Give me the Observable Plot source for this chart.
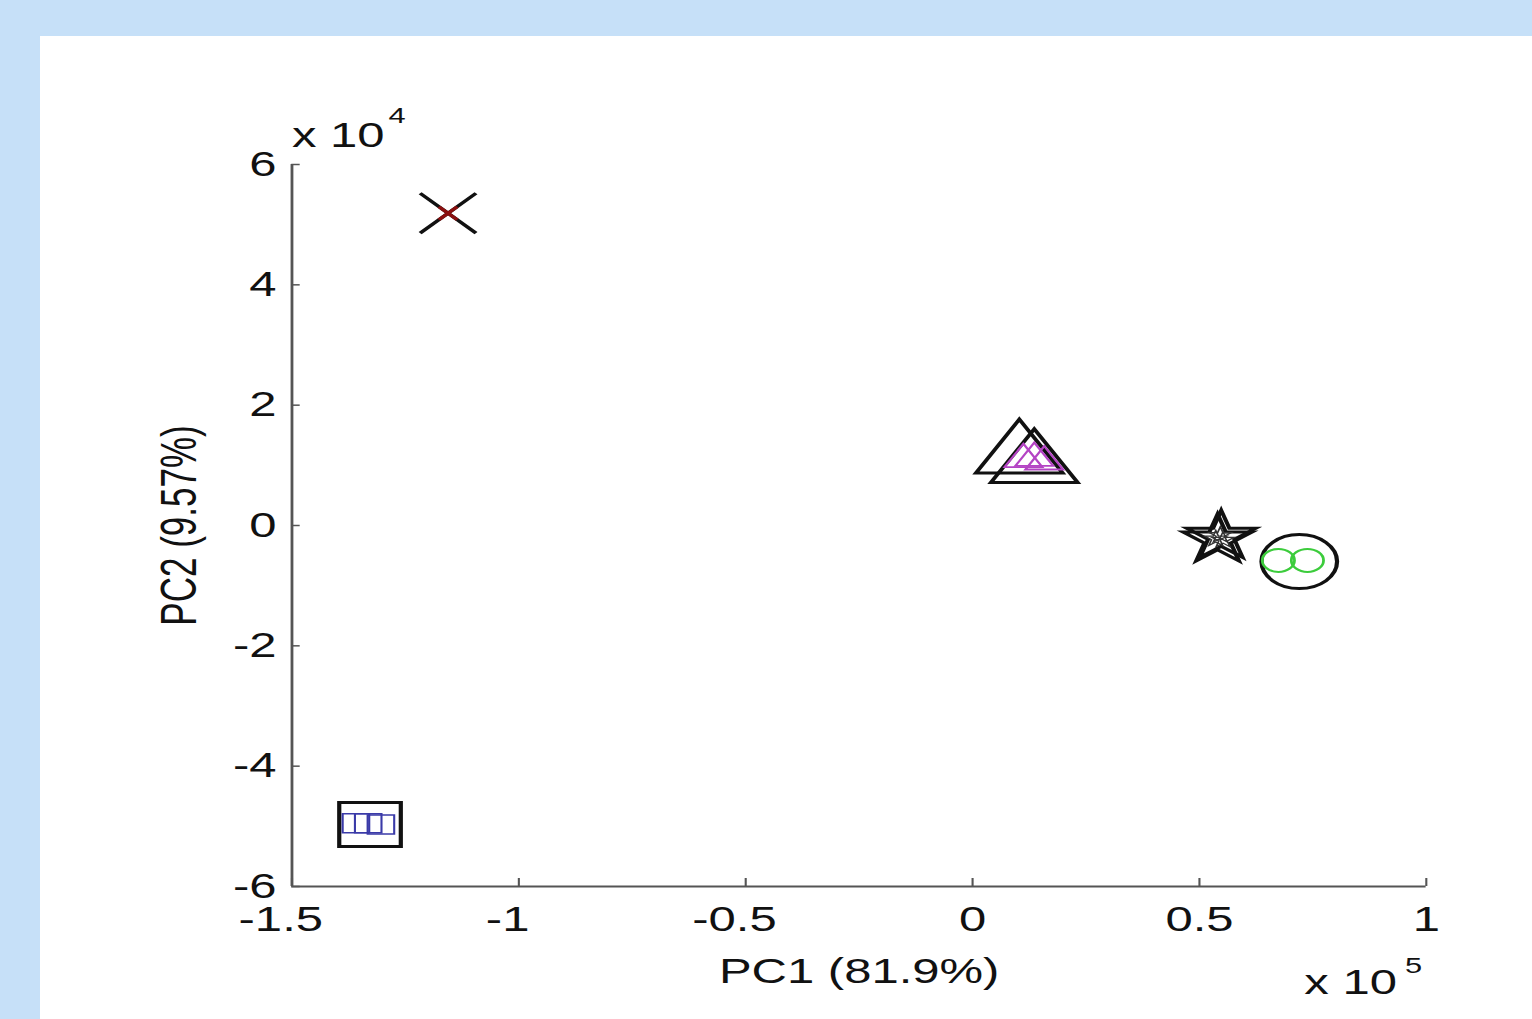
<!DOCTYPE html>
<html><head><meta charset="utf-8">
<script src="https://cdn.jsdelivr.net/npm/d3@7"></script>
<script src="https://cdn.jsdelivr.net/npm/@observablehq/plot@0.6"></script>
<style>
html,body{margin:0;padding:0;width:1532px;height:1019px;overflow:hidden;background:#c6e0f8;}
#panel{position:absolute;left:40px;top:36px;right:0;bottom:0;background:#fff;}
#chart{position:absolute;left:0;top:0;width:1532px;height:1019px;}
#chart svg{transform-origin:0 0;transform:scaleX(1.4004);}
</style></head><body><div id="panel"></div><div id="chart"></div>
<script>
// ---- data ----
const xTicks = [-1.5, -1, -0.5, 0, 0.5, 1];
const yTicks = [-6, -4, -2, 0, 2, 4, 6];
const xLabel = "PC1 (81.9%)";
const yLabel = "PC2 (9.57%)";
const xMultiplier = ["x 10", "5"];
const yMultiplier = ["x 10", "4"];

const centroidGroup = ["A", "B", "B", "C", "C", "D", "E"];
const centroidPC1 = [-1.156, 0.103, 0.136, 0.540, 0.548, 0.720, -1.328];
const centroidPC2 = [5.19, 1.17, 1.01, -0.24, -0.18, -0.60, -4.97];

const sampleGroup = ["A", "B", "B", "B", "C", "C", "C", "D", "D", "E", "E", "E"];
const samplePC1 = [-1.156, 0.112, 0.136, 0.158, 0.536, 0.546, 0.552, 0.674, 0.738, -1.359, -1.332, -1.304];
const samplePC2 = [5.19, 1.10, 1.12, 1.06, -0.22, -0.16, -0.24, -0.58, -0.58, -4.95, -4.95, -4.97];

// ---- styles ----
const groupStyle = {
  A: {symbol: "times", r: 18.2, rs: 6, color: "#8b1010", sw: 3},
  B: {symbol: "triangle", r: 23, rs: 10, color: "#b444c4", sw: 1.8},
  C: {symbol: "star", r: 15.5, rs: 5, color: "#333333", sw: 1.2},
  D: {symbol: "circle", r: 27, rs: 11.5, color: "#3ccc3c", sw: 2},
  E: {symbol: "square", r: 24.8, rs: 10.7, color: "#3a3aa8", sw: 1.5}
};

const W = 1094, H = 1019;
const mL = 208, mR = 76, mT = 164, mB = 133;
const plotW = W - mL - mR, plotH = H - mT - mB;

const marks = [];
// axis lines
marks.push(Plot.ruleY([yTicks[0]], {stroke: "#555", strokeWidth: 2}));
marks.push(Plot.ruleX([xTicks[0]], {stroke: "#555", strokeWidth: 2}));
// inward ticks
marks.push(Plot.ruleX(xTicks, {x: d => d, insetTop: plotH - 8, stroke: "#555", strokeWidth: 1.5}));
marks.push(Plot.ruleY(yTicks, {y: d => d, insetRight: plotW - 6, stroke: "#555", strokeWidth: 1.5}));
// tick labels
marks.push(Plot.axisX(xTicks.filter(d => d < 0), {tickSize: 0, tickPadding: 20, dx: -8, tickFormat: d => String(d), label: null, fill: "#111"}));
marks.push(Plot.axisX(xTicks.filter(d => d >= 0), {tickSize: 0, tickPadding: 20, tickFormat: d => String(d), label: null, fill: "#111"}));
marks.push(Plot.axisY(yTicks, {tickSize: 0, tickPadding: 11, tickFormat: d => String(d), label: null, fill: "#111"}));
// axis titles
marks.push(Plot.text([xLabel], {text: d => d, frameAnchor: "bottom", textAnchor: "middle", dy: 96, fill: "#111"}));
marks.push(Plot.text([yLabel], {text: d => d, frameAnchor: "left", textAnchor: "middle", dx: -80, rotate: -90, fill: "#111"}));
// multipliers
marks.push(Plot.text([yMultiplier[0]], {text: d => d, frameAnchor: "top-left", textAnchor: "start", dx: 0, dy: -42, fill: "#111"}));
marks.push(Plot.text([yMultiplier[1]], {text: d => d, frameAnchor: "top-left", textAnchor: "start", dx: 69, dy: -57, fontSize: 22, fill: "#111"}));
marks.push(Plot.text([xMultiplier[0]], {text: d => d, frameAnchor: "bottom-right", textAnchor: "end", dx: -21, dy: 107, fill: "#111"}));
marks.push(Plot.text([xMultiplier[1]], {text: d => d, frameAnchor: "bottom-right", textAnchor: "end", dx: -3, dy: 86, fontSize: 22, fill: "#111"}));

// group outline markers
for (const g of Object.keys(groupStyle)) {
  const s = groupStyle[g];
  const idx = d3.range(centroidGroup.length).filter(i => centroidGroup[i] === g);
  marks.push(Plot.dot(idx, {x: i => centroidPC1[i], y: i => centroidPC2[i], symbol: s.symbol, r: s.r, fill: "none", stroke: "#111", strokeWidth: 3}));
}
// sample markers
for (const g of Object.keys(groupStyle)) {
  const s = groupStyle[g];
  const idx = d3.range(sampleGroup.length).filter(i => sampleGroup[i] === g);
  marks.push(Plot.dot(idx, {x: i => samplePC1[i], y: i => samplePC2[i], symbol: s.symbol, r: s.rs, fill: "none", stroke: s.color, strokeWidth: s.sw}));
}

const chart = Plot.plot({
  width: W, height: H,
  marginLeft: mL, marginRight: mR, marginTop: mT, marginBottom: mB,
  x: {domain: [xTicks[0], xTicks[xTicks.length - 1]]},
  y: {domain: [yTicks[0], yTicks[yTicks.length - 1]]},
  style: {background: "transparent", overflow: "visible", maxWidth: "none", fontFamily: "'Liberation Sans', Arial, Helvetica, sans-serif", fontSize: "35px", color: "#111"},
  marks
});
document.getElementById("chart").appendChild(chart);
</script>
</body></html>
